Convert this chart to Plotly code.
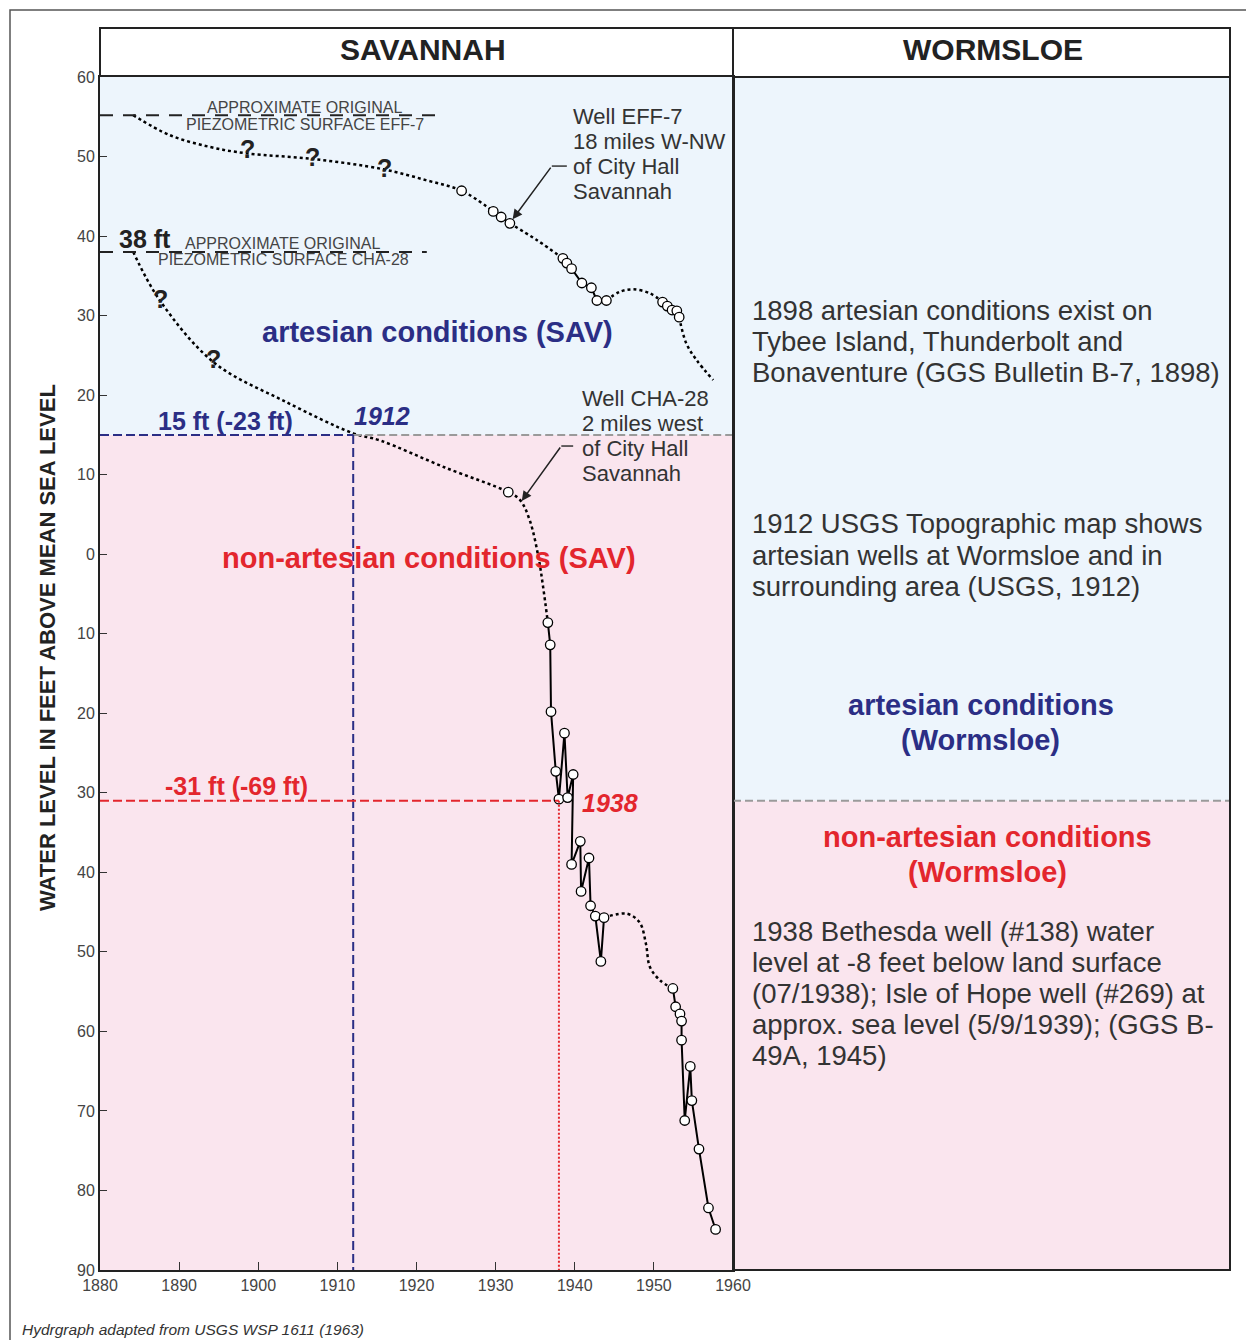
import plotly.graph_objects as go

# ---------------------------------------------------------------------------
# Well EFF-7 (18 miles W-NW of City Hall, Savannah)
# observed water levels (open circles), feet relative to mean sea level
eff7_obs_year = [1925.7, 1929.7, 1930.7, 1931.8, 1938.5, 1939.0, 1939.6, 1940.9,
                 1942.1, 1942.8, 1944.0, 1951.1, 1951.7, 1952.3, 1952.9, 1953.2]
eff7_obs_level = [45.7, 43.1, 42.4, 41.6, 37.2, 36.6, 35.9, 34.1,
                  33.5, 31.9, 31.9, 31.7, 31.2, 30.7, 30.6, 29.8]
# inferred hydrograph between records (dotted)
eff7_early_year = [1884.2, 1888.8, 1893.9, 1898.5, 1906.9, 1915.8, 1921.3, 1925.7, 1929.7]
eff7_early_level = [55.2, 52.7, 51.2, 50.4, 49.7, 48.4, 47.0, 45.7, 43.1]
eff7_gap_year = [1931.8, 1935.2, 1938.5]
eff7_gap_level = [41.6, 39.5, 37.2]
eff7_bump_year = [1944.0, 1945.7, 1947.4, 1949.5, 1951.1]
eff7_bump_level = [31.9, 33.0, 33.3, 32.8, 31.7]
eff7_tail_year = [1953.2, 1954.1, 1955.4, 1957.5]
eff7_tail_level = [29.8, 26.5, 24.4, 21.9]
eff7_original_level = 55.2

# ---------------------------------------------------------------------------
# Well CHA-28 (2 miles west of City Hall, Savannah)
cha_obs_year = [1931.6, 1936.6, 1936.9, 1937.0, 1937.6, 1938.0, 1938.7, 1939.1,
                1939.8, 1939.6, 1940.7, 1940.8, 1941.8, 1942.0, 1942.6, 1943.3,
                1943.7, 1952.4, 1952.75, 1953.3, 1953.5, 1953.5, 1953.9, 1954.6,
                1954.8, 1955.7, 1956.9, 1957.8]
cha_obs_level = [7.8, -8.6, -11.4, -19.8, -27.3, -30.8, -22.5, -30.6,
                 -27.7, -39.0, -36.1, -42.4, -38.2, -44.2, -45.5, -51.2,
                 -45.7, -54.6, -56.9, -57.8, -58.7, -61.1, -71.2, -64.4,
                 -68.7, -74.8, -82.2, -84.9]
cha_early_year = [1884.2, 1887.5, 1894.4, 1903.4, 1912.0, 1915.4, 1923.6, 1931.6,
                  1933.1, 1934.3, 1935.4, 1936.0, 1936.6]
cha_early_level = [38.0, 32.0, 24.1, 19.2, 15.2, 14.3, 10.9, 7.8,
                   6.8, 4.3, -0.3, -4.1, -8.6]
cha_bump_year = [1943.7, 1946.6, 1948.2, 1949.0, 1949.5, 1950.8, 1952.4]
cha_bump_level = [-45.7, -45.2, -46.3, -49.0, -51.9, -53.6, -54.6]
cha_original_level = 38

# artesian / non-artesian thresholds
sav_threshold = 15          # Savannah: 15 ft (-23 ft from original)
sav_threshold_year = 1912
wormsloe_threshold = -31    # Wormsloe: -31 ft (-69 ft from original)
wormsloe_threshold_year = 1938

x_ticks = list(range(1880, 1961, 10))
y_ticks = list(range(-90, 61, 10))
y_tick_text = [str(abs(v)) for v in y_ticks]

# ---------------------------------------------------------------------------
FONT = "Liberation Sans, Arial, sans-serif"
NAVY = "#2B2E85"
RED = "#E3262D"
TEXT = "#333333"
BLUE_BG = "#EDF5FC"
PINK_BG = "#FAE5EE"
W, H = 1246, 1340
L, R, T, B = 100, 513, 77, 70
PW, PH = W - L - R, H - T - B


def px(x):
    """horizontal page pixel -> paper fraction"""
    return (x - L) / PW


def py(y):
    """vertical page pixel -> paper fraction"""
    return (H - B - y) / PH


RIGHT = px(1230)

fig = go.Figure()

dotted = dict(color="black", width=2.5, dash="3px,3px", shape="spline")
solid = dict(color="black", width=2)
marker = dict(symbol="circle", size=9.5, color="white", line=dict(color="black", width=1.3))


def line(xs, ys, style):
    fig.add_trace(go.Scatter(x=xs, y=ys, mode="lines", line=style,
                             hoverinfo="skip", showlegend=False))


# EFF-7
for xs, ys in [(eff7_early_year, eff7_early_level), (eff7_gap_year, eff7_gap_level),
               (eff7_bump_year, eff7_bump_level), (eff7_tail_year, eff7_tail_level)]:
    line(xs, ys, dotted)
for a, b in [(1, 4), (4, 11), (11, 16)]:
    line(eff7_obs_year[a:b], eff7_obs_level[a:b], solid)
fig.add_trace(go.Scatter(x=eff7_obs_year, y=eff7_obs_level, mode="markers",
                         marker=marker, showlegend=False, name="EFF-7"))

# CHA-28
line(cha_early_year, cha_early_level, dotted)
line(cha_bump_year, cha_bump_level, dotted)
for a, b in [(1, 17), (17, len(cha_obs_year))]:
    line(cha_obs_year[a:b], cha_obs_level[a:b], solid)
fig.add_trace(go.Scatter(x=cha_obs_year, y=cha_obs_level, mode="markers",
                         marker=marker, showlegend=False, name="CHA-28"))

# ---------------------------------------------------------------------------
shapes = []
# background zones — Savannah
shapes.append(dict(type="rect", xref="x", yref="y", x0=1880, x1=1960, y0=sav_threshold, y1=60,
                   fillcolor=BLUE_BG, line_width=0, layer="below"))
shapes.append(dict(type="rect", xref="x", yref="y", x0=1880, x1=1960, y0=-90, y1=sav_threshold,
                   fillcolor=PINK_BG, line_width=0, layer="below"))
# background zones — Wormsloe
shapes.append(dict(type="rect", xref="paper", yref="y", x0=1, x1=RIGHT, y0=wormsloe_threshold, y1=60,
                   fillcolor=BLUE_BG, line_width=0, layer="below"))
shapes.append(dict(type="rect", xref="paper", yref="y", x0=1, x1=RIGHT, y0=-90, y1=wormsloe_threshold,
                   fillcolor=PINK_BG, line_width=0, layer="below"))
# zone boundaries
shapes.append(dict(type="line", xref="x", yref="y", x0=sav_threshold_year, x1=1960,
                   y0=sav_threshold, y1=sav_threshold,
                   line=dict(color="#9A9A9A", width=2, dash="8px,4px")))
shapes.append(dict(type="line", xref="paper", yref="y", x0=1, x1=RIGHT,
                   y0=wormsloe_threshold, y1=wormsloe_threshold,
                   line=dict(color="#9A9A9A", width=2, dash="8px,4px")))
# 1912 guide
shapes.append(dict(type="line", xref="x", yref="y", x0=1880, x1=sav_threshold_year,
                   y0=sav_threshold, y1=sav_threshold, line=dict(color=NAVY, width=2, dash="9px,4px")))
shapes.append(dict(type="line", xref="x", yref="y", x0=sav_threshold_year, x1=sav_threshold_year,
                   y0=sav_threshold, y1=-90, line=dict(color=NAVY, width=2, dash="9px,4px")))
# 1938 guide
shapes.append(dict(type="line", xref="x", yref="y", x0=1880, x1=wormsloe_threshold_year,
                   y0=wormsloe_threshold, y1=wormsloe_threshold, line=dict(color=RED, width=2, dash="9px,4px")))
shapes.append(dict(type="line", xref="x", yref="y", x0=wormsloe_threshold_year, x1=wormsloe_threshold_year,
                   y0=wormsloe_threshold, y1=-90, line=dict(color=RED, width=2, dash="2px,2px")))
# approximate original piezometric surfaces
shapes.append(dict(type="line", xref="x", yref="y", x0=1880, x1=1922.6,
                   y0=eff7_original_level, y1=eff7_original_level,
                   line=dict(color="#222", width=2, dash="13px,10px")))
shapes.append(dict(type="line", xref="x", yref="y", x0=1880, x1=1921.3,
                   y0=cha_original_level, y1=cha_original_level,
                   line=dict(color="#222", width=2, dash="13px,10px")))
# leader ticks for the well labels
shapes.append(dict(type="line", xref="x", yref="y", x0=1937.1, x1=1939.0, y0=48.8, y1=48.8,
                   line=dict(color="#333", width=1.5)))
shapes.append(dict(type="line", xref="x", yref="y", x0=1938.3, x1=1939.8, y0=13.6, y1=13.6,
                   line=dict(color="#333", width=1.5)))
# header boxes and Wormsloe panel frame
shapes.append(dict(type="rect", xref="paper", yref="paper", x0=0, x1=RIGHT, y0=1, y1=py(28),
                   line=dict(color="#222", width=2), fillcolor="white", layer="below"))
shapes.append(dict(type="line", xref="paper", yref="paper", x0=1, x1=1, y0=0, y1=py(28),
                   line=dict(color="#222", width=2)))
shapes.append(dict(type="rect", xref="paper", yref="paper", x0=1, x1=RIGHT, y0=0, y1=1,
                   line=dict(color="#222", width=2)))
# outer frame
shapes.append(dict(type="rect", xref="paper", yref="paper", x0=px(10), x1=px(1252), y0=py(1346), y1=py(10),
                   line=dict(color="#555", width=1.5)))

# ---------------------------------------------------------------------------
ann = []


def text(x, y, s, size, color=TEXT, bold=False, italic=False, xanchor="center",
         xref="x", yref="y"):
    if bold:
        s = f"<b>{s}</b>"
    if italic:
        s = f"<i>{s}</i>"
    ann.append(dict(x=x, y=y, xref=xref, yref=yref, text=s, showarrow=False,
                    xanchor=xanchor, yanchor="middle",
                    font=dict(family=FONT, size=size, color=color)))


# headers
text(px(423), py(50), "SAVANNAH", 30, "#222", bold=True, xref="paper", yref="paper")
text(px(993), py(50), "WORMSLOE", 30, "#222", bold=True, xref="paper", yref="paper")

# original surface labels
text(1905.9, 56.2, "APPROXIMATE ORIGINAL", 16, "#444")
text(1905.9, 54.0, "PIEZOMETRIC SURFACE EFF-7", 16, "#444")
text(1885.7, 39.6, "38 ft", 25, "#222", bold=True)
text(1903.1, 39.1, "APPROXIMATE ORIGINAL", 16, "#444")
text(1903.2, 37.0, "PIEZOMETRIC SURFACE CHA-28", 16, "#444")

# uncertain parts of the hydrographs
for qx, qy in [(1898.7, 50.9), (1906.9, 50.0), (1915.9, 48.6), (1887.6, 32.1), (1894.4, 24.6)]:
    text(qx, qy, "?", 25, "#222", bold=True)

# well descriptions
for i, s in enumerate(["Well EFF-7", "18 miles W-NW", "of City Hall", "Savannah"]):
    text(1939.5, 55.0 - i * 3.15, s, 22, xanchor="left")
for i, s in enumerate(["Well CHA-28", "2 miles west", "of City Hall", "Savannah"]):
    text(1940.7, 19.6 - i * 3.15, s, 22, xanchor="left")

# zone labels — Savannah
text(1922.7, 27.9, "artesian conditions (SAV)", 29, NAVY, bold=True)
text(1921.6, -0.5, "non-artesian conditions (SAV)", 29, RED, bold=True)
text(1895.9, 16.7, "15 ft (-23 ft)", 25, NAVY, bold=True)
text(1915.6, 17.4, "1912", 25, NAVY, bold=True, italic=True)
text(1897.3, -29.2, "-31 ft (-69 ft)", 25, RED, bold=True)
text(1944.5, -31.3, "1938", 25, RED, bold=True, italic=True)

# Wormsloe notes
xl = px(750)
for i, s in enumerate(["1898 artesian conditions exist on", "Tybee Island, Thunderbolt and",
                       "Bonaventure (GGS Bulletin B-7, 1898)"]):
    text(xl, 30.7 - i * 3.9, s, 27.5, xanchor="left", xref="paper")
for i, s in enumerate(["1912 USGS Topographic map shows", "artesian wells at Wormsloe and in",
                       "surrounding area (USGS, 1912)"]):
    text(xl, 3.8 - i * 3.9, s, 27.5, xanchor="left", xref="paper")
text(px(981), -19.0, "artesian conditions", 29, NAVY, bold=True, xref="paper")
text(px(981), -23.4, "(Wormsloe)", 29, NAVY, bold=True, xref="paper")
text(px(987), -35.6, "non-artesian conditions", 29, RED, bold=True, xref="paper")
text(px(987), -39.9, "(Wormsloe)", 29, RED, bold=True, xref="paper")
for i, s in enumerate(["1938 Bethesda well (#138) water", "level at -8 feet below land surface",
                       "(07/1938); Isle of Hope well (#269) at", "approx. sea level (5/9/1939); (GGS B-",
                       "49A, 1945)"]):
    text(xl, -47.4 - i * 3.9, s, 27.5, xanchor="left", xref="paper")

# axis title and source note
ann.append(dict(x=px(47), y=py(648), xref="paper", yref="paper", showarrow=False,
                xanchor="center", yanchor="middle",
                text="<b>WATER LEVEL IN FEET ABOVE MEAN SEA LEVEL</b>", textangle=-90,
                font=dict(family=FONT, size=22, color="#222")))
text(px(20), py(1329), "Hydrgraph adapted from USGS WSP 1611 (1963)", 15.5, "#333",
     italic=True, xanchor="left", xref="paper", yref="paper")

# arrows pointing at the wells
for tip, tail in [((1932.15, 42.1), (1937.1, 48.8)), ((1933.3, 6.7), (1938.3, 13.6))]:
    ann.append(dict(x=tip[0], y=tip[1], ax=tail[0], ay=tail[1], xref="x", yref="y",
                    axref="x", ayref="y", showarrow=True, arrowhead=2, arrowsize=1.3,
                    arrowwidth=1.5, arrowcolor="#222", text="", standoff=0))

fig.update_layout(
    width=W, height=H,
    margin=dict(l=L, r=R, t=T, b=B),
    paper_bgcolor="white", plot_bgcolor="rgba(0,0,0,0)",
    shapes=shapes, annotations=ann, showlegend=False,
    xaxis=dict(range=[1880, 1960], tickvals=x_ticks, ticks="inside", ticklen=8,
               tickcolor="#333", tickwidth=1.2, showgrid=False, zeroline=False,
               showline=True, linecolor="#222", linewidth=2, mirror=True,
               tickfont=dict(family=FONT, size=16, color="#444")),
    yaxis=dict(range=[-90, 60], tickvals=y_ticks, ticktext=y_tick_text, ticks="inside",
               ticklen=7, tickcolor="#333", tickwidth=1.2, showgrid=False, zeroline=False,
               showline=True, linecolor="#222", linewidth=2, mirror=True,
               tickfont=dict(family=FONT, size=16, color="#444")),
)

fig.write_html("out.html")
